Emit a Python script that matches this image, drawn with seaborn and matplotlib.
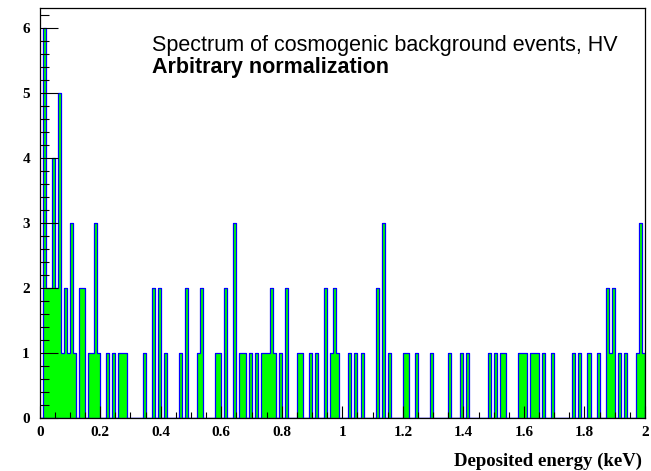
import numpy as np
import pandas as pd
import matplotlib
matplotlib.use("Agg")
import matplotlib.pyplot as plt
from matplotlib.ticker import MultipleLocator, FixedLocator, FixedFormatter
import seaborn as sns

# ---- data: counts per 0.01 keV bin, 0 - 2 keV (200 bins) ----
counts_000_049 = [0, 6, 2, 2, 4, 2, 5, 1, 2, 1,
                  3, 1, 0, 2, 2, 0, 1, 1, 3, 1,
                  0, 0, 1, 0, 1, 0, 1, 1, 1, 0,
                  0, 0, 0, 0, 1, 0, 0, 2, 0, 2,
                  0, 1, 0, 0, 0, 0, 1, 0, 2, 0]
counts_050_099 = [0, 0, 1, 2, 0, 0, 0, 0, 1, 1,
                  0, 2, 0, 0, 3, 0, 1, 1, 0, 1,
                  0, 1, 0, 1, 1, 1, 2, 1, 0, 1,
                  0, 2, 0, 0, 0, 1, 1, 0, 0, 1,
                  0, 1, 0, 0, 2, 0, 1, 2, 1, 0]
counts_100_149 = [0, 0, 1, 0, 1, 0, 1, 0, 0, 0,
                  0, 2, 0, 3, 0, 1, 0, 0, 0, 0,
                  1, 1, 0, 0, 1, 0, 0, 0, 0, 1,
                  0, 0, 0, 0, 0, 1, 0, 0, 0, 1,
                  0, 1, 0, 0, 0, 0, 0, 0, 1, 0]
counts_150_199 = [1, 0, 1, 1, 0, 0, 0, 0, 1, 1,
                  1, 0, 1, 1, 1, 0, 1, 0, 0, 1,
                  0, 0, 0, 0, 0, 0, 1, 0, 1, 0,
                  0, 1, 0, 0, 1, 0, 0, 2, 1, 2,
                  0, 1, 0, 1, 0, 0, 0, 1, 3, 1]
counts = counts_000_049 + counts_050_099 + counts_100_149 + counts_150_199

x_range = (0.0, 2.0)
n_bins = 200
x_tick_values = [0, 0.2, 0.4, 0.6, 0.8, 1.0, 1.2, 1.4, 1.6, 1.8, 2.0]
x_tick_labels = ["0", "0.2", "0.4", "0.6", "0.8", "1", "1.2", "1.4", "1.6", "1.8", "2"]
y_tick_values = [0, 1, 2, 3, 4, 5, 6]
y_tick_labels = ["0", "1", "2", "3", "4", "5", "6"]
x_title = "Deposited energy (keV)"
legend_line1 = "Spectrum of cosmogenic background events, HV"
legend_line2 = "Arbitrary normalization"

# ---- figure ----
sns.set_theme(style="white")
plt.rcParams["font.family"] = ["Liberation Serif", "DejaVu Serif"]

W, H = 651, 471
fig = plt.figure(figsize=(W / 100, H / 100), dpi=100)
fig.patch.set_facecolor("white")
left_px, right_px, top_px, bottom_px = 39.7, 645.0, 8.3, 418.0
ax = fig.add_axes([left_px / W, 1 - bottom_px / H,
                   (right_px - left_px) / W, (bottom_px - top_px) / H])
ax.set_facecolor("white")

bin_width = (x_range[1] - x_range[0]) / n_bins
centers = x_range[0] + bin_width * (np.arange(n_bins) + 0.5)
df = pd.DataFrame({"energy": centers, "count": np.asarray(counts, dtype=float)})
sns.histplot(data=df, x="energy", weights="count", bins=n_bins, binrange=x_range,
             element="step", fill=True,
             facecolor="#00ff00", edgecolor="#0000ff", linewidth=0.9, alpha=1,
             ax=ax)

ax.set_xlim(*x_range)
ax.set_ylim(0, 6.3)
ax.set_axisbelow(False)

ax.xaxis.set_major_locator(FixedLocator(x_tick_values))
ax.xaxis.set_major_formatter(FixedFormatter(x_tick_labels))
ax.xaxis.set_minor_locator(MultipleLocator(0.05))
ax.yaxis.set_major_locator(FixedLocator(y_tick_values))
ax.yaxis.set_major_formatter(FixedFormatter(y_tick_labels))
ax.yaxis.set_minor_locator(MultipleLocator(0.2))

ax.tick_params(axis="x", which="major", direction="in", length=8.6, width=0.8,
               color="black", pad=6, bottom=True, top=False)
ax.tick_params(axis="x", which="minor", direction="in", length=4.3, width=0.8,
               color="black", bottom=True, top=False)
ax.tick_params(axis="y", which="major", direction="in", length=13, width=0.8,
               color="black", pad=7, left=True, right=False)
ax.tick_params(axis="y", which="minor", direction="in", length=6.5, width=0.8,
               color="black", left=True, right=False)
for lab in ax.get_xticklabels() + ax.get_yticklabels():
    lab.set_fontweight("bold")
    lab.set_fontsize(11)
    lab.set_color("black")

for sp in ax.spines.values():
    sp.set_color("black")
    sp.set_linewidth(0.9)
    sp.set_zorder(5)

ax.set_ylabel("")
ax.set_xlabel("")
fig.text(642 / W, 1 - 466 / H, x_title, ha="right", va="baseline",
         fontsize=13.5, fontweight="bold", color="black")

fig.text(152 / W, 1 - 51 / H, legend_line1, ha="left", va="baseline",
         fontsize=15.5, family=["Liberation Sans", "DejaVu Sans"], color="black")
fig.text(152 / W, 1 - 73 / H, legend_line2, ha="left", va="baseline",
         fontsize=15.5, fontweight="bold", family=["Liberation Sans", "DejaVu Sans"],
         color="black")

fig.savefig("out.png", dpi=100, facecolor="white")
